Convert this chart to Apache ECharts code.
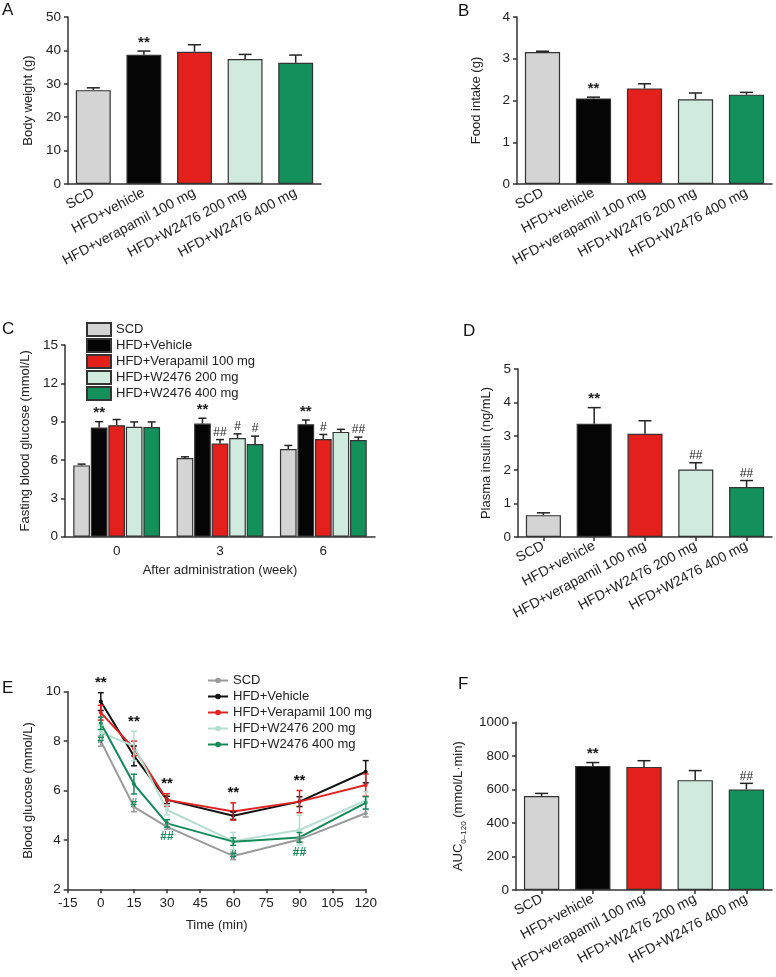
<!DOCTYPE html>
<html><head><meta charset="utf-8">
<script src="https://cdn.jsdelivr.net/npm/echarts@6/dist/echarts.min.js"></script>
<style>
html,body{margin:0;padding:0;background:#fff;width:776px;height:977px;overflow:hidden;}
.p{position:absolute;}
</style></head><body>
<div id="pA" class="p" style="left:0;top:0;width:388px;height:300px"></div>
<div id="pB" class="p" style="left:388px;top:0;width:388px;height:300px"></div>
<div id="pC" class="p" style="left:0;top:300px;width:388px;height:310px"></div>
<div id="pD" class="p" style="left:388px;top:300px;width:388px;height:320px"></div>
<div id="pE" class="p" style="left:0;top:610px;width:388px;height:367px"></div>
<div id="pF" class="p" style="left:388px;top:620px;width:388px;height:357px"></div>
<script>
const FONT = '"Liberation Sans", Arial, Helvetica, sans-serif';
const TXT = '#222';
const AX = '#333';

// ---------- shared categories / groups ----------
const barCats = ['SCD', 'HFD+vehicle', 'HFD+verapamil 100 mg', 'HFD+W2476 200 mg', 'HFD+W2476 400 mg'];
const groupNames = ['SCD', 'HFD+Vehicle', 'HFD+Verapamil 100 mg', 'HFD+W2476 200 mg', 'HFD+W2476 400 mg'];
const barFills = ['#d4d4d4', '#050505', '#e3201b', '#d0eadf', '#14905d'];
const lineColors = ['#9a9a9a', '#111111', '#e02424', '#b5ded0', '#148a5a'];

// ---------- A: body weight ----------
const bodyWeight = [28.1, 38.7, 39.6, 37.4, 36.3];
const bodyWeightErr = [0.7, 1.1, 2.1, 1.4, 2.3];
const bodyWeightSig = ['', '**', '', '', ''];

// ---------- B: food intake ----------
const foodIntake = [3.16, 2.05, 2.29, 2.03, 2.14];
const foodIntakeErr = [0.02, 0.03, 0.11, 0.15, 0.055];
const foodIntakeSig = ['', '**', '', '', ''];

// ---------- C: fasting blood glucose ----------
const weeks = ['0', '3', '6'];
const fbgSCD = [5.58, 6.15, 6.86];
const fbgSCDErr = [0.1, 0.1, 0.28];
const fbgVeh = [8.55, 8.85, 8.8];
const fbgVehErr = [0.45, 0.42, 0.33];
const fbgVer = [8.72, 7.3, 7.64];
const fbgVerErr = [0.45, 0.3, 0.36];
const fbgW200 = [8.6, 7.72, 8.2];
const fbgW200Err = [0.38, 0.33, 0.2];
const fbgW400 = [8.58, 7.25, 7.57];
const fbgW400Err = [0.4, 0.62, 0.22];
const fbgSCDSig = ['', '', ''];
const fbgVehSig = ['**', '**', '**'];
const fbgVerSig = ['', '##', '#'];
const fbgW200Sig = ['', '#', ''];
const fbgW400Sig = ['', '#', '##'];

// ---------- D: plasma insulin ----------
const insulin = [0.65, 3.37, 3.07, 2.01, 1.49];
const insulinErr = [0.07, 0.48, 0.39, 0.2, 0.19];
const insulinSig = ['', '**', '', '##', '##'];

// ---------- E: OGTT blood glucose ----------
const timeE = [0, 15, 30, 60, 90, 120];
const ogttSCD = [8.0, 5.34, 4.53, 3.35, 4.02, 5.08];
const ogttSCDErr = [0.2, 0.2, 0.1, 0.15, 0.1, 0.15];
const ogttVeh = [9.6, 7.4, 5.62, 4.98, 5.55, 6.76];
const ogttVehErr = [0.36, 0.4, 0.15, 0.15, 0.2, 0.45];
const ogttVer = [9.15, 7.7, 5.62, 5.15, 5.55, 6.22];
const ogttVerErr = [0.3, 0.3, 0.25, 0.35, 0.45, 0.45];
const ogttW200 = [8.35, 7.8, 5.21, 3.95, 4.4, 5.6];
const ogttW200Err = [0.3, 0.6, 0.2, 0.35, 0.6, 0.35];
const ogttW400 = [8.72, 6.26, 4.67, 3.93, 4.1, 5.5];
const ogttW400Err = [0.25, 0.4, 0.15, 0.15, 0.2, 0.25];
const ogttStarSig = ['**', '**', '**', '**', '**', ''];
const ogttHashSig = ['#', '#', '##', '#', '##', ''];

// ---------- F: AUC ----------
const auc = [560, 740, 734, 655, 600];
const aucErr = [16, 20, 37, 57, 36];
const aucSig = ['', '**', '', '', '##'];

// ---------- helpers ----------
function letter(t, x, y) {
  return { type: 'text', left: x, top: y, style: { text: t, font: '17px ' + FONT, fill: '#111' } };
}
function valueAxis(min, max, interval, name, nameGap, extra) {
  return Object.assign({
    type: 'value', min: min, max: max, interval: interval,
    name: name, nameLocation: 'middle', nameGap: nameGap,
    nameTextStyle: { fontSize: 13, color: TXT, fontFamily: FONT },
    axisLine: { show: true, onZero: false, lineStyle: { color: AX, width: 1.5 } },
    axisTick: { show: true, length: 4, lineStyle: { color: AX, width: 1.5 } },
    splitLine: { show: false },
    axisLabel: { fontSize: 13.5, color: TXT, fontFamily: FONT, margin: 7, formatter: v => String(v) }
  }, extra || {});
}
function catAxis(data, rotate, ticks, labelSize) {
  return {
    type: 'category', data: data,
    axisLine: { show: true, onZero: false, lineStyle: { color: AX, width: 1.5 } },
    axisTick: { show: ticks, alignWithLabel: true, length: 4, lineStyle: { color: AX, width: 1.5 } },
    axisLabel: { interval: 0, rotate: rotate, fontSize: labelSize, color: TXT, fontFamily: FONT, margin: 8 },
    splitLine: { show: false }
  };
}
function errBarSeries(means, errs, sigs, opt) {
  const data = means.map((m, i) => [i, m, errs[i]]);
  return {
    type: 'custom', z: 5, silent: true, data: data,
    encode: { x: 0, y: [1, 2] },
    renderItem: function (params, api) {
      const i = params.dataIndex;
      const m = api.value(1), e = api.value(2);
      const p0 = api.coord([api.value(0), m]);
      const p1 = api.coord([api.value(0), m + e]);
      const off = opt.offset ? opt.offset(api) : 0;
      const cx = p0[0] + off;
      const cw = opt.capW;
      const st = { stroke: opt.color || '#222', lineWidth: 1.5 };
      const ch = [
        { type: 'line', shape: { x1: cx, y1: p0[1], x2: cx, y2: p1[1] }, style: st },
        { type: 'line', shape: { x1: cx - cw / 2, y1: p1[1], x2: cx + cw / 2, y2: p1[1] }, style: st }
      ];
      const s = sigs[i];
      if (s) {
        ch.push({ type: 'text', style: { text: s, x: cx, y: p1[1] - 1, align: 'center', verticalAlign: 'bottom',
          fontSize: s.indexOf('*') >= 0 ? 15 : 12, fontWeight: s.indexOf('*') >= 0 ? 'bold' : 'normal',
          fontFamily: FONT, fill: '#222' } });
      }
      return { type: 'group', children: ch };
    }
  };
}
function singleBarOption(cfg) {
  return {
    animation: false,
    graphic: [letter(cfg.letter, cfg.lx, cfg.ly)],
    grid: Object.assign({ containLabel: false, outerBoundsMode: 'none' }, cfg.grid),
    xAxis: catAxis(barCats, 28, cfg.xTicks, 14),
    yAxis: valueAxis(cfg.min, cfg.max, cfg.interval, cfg.yName, cfg.nameGap),
    series: [
      {
        type: 'bar', barCategoryGap: '31%',
        data: cfg.means.map((v, i) => ({ value: v, itemStyle: { color: barFills[i] } })),
        itemStyle: { borderColor: '#333', borderWidth: 1.2 }
      },
      errBarSeries(cfg.means, cfg.errs, cfg.sigs, { capW: 13 })
    ]
  };
}

// ---------- A ----------
echarts.init(document.getElementById('pA')).setOption(singleBarOption({
  letter: 'A', lx: 2, ly: 2,
  grid: { left: 68, top: 17, width: 253, height: 167 },
  min: 0, max: 50, interval: 10, yName: 'Body weight (g)', nameGap: 32,
  means: bodyWeight, errs: bodyWeightErr, sigs: bodyWeightSig, xTicks: false
}));

// ---------- B ----------
echarts.init(document.getElementById('pB')).setOption(singleBarOption({
  letter: 'B', lx: 70, ly: 3,
  grid: { left: 129, top: 17, width: 255, height: 167 },
  min: 0, max: 4, interval: 1, yName: 'Food intake (g)', nameGap: 34,
  means: foodIntake, errs: foodIntakeErr, sigs: foodIntakeSig, xTicks: false
}));

// ---------- C ----------
(function () {
  const means = [fbgSCD, fbgVeh, fbgVer, fbgW200, fbgW400];
  const errs = [fbgSCDErr, fbgVehErr, fbgVerErr, fbgW200Err, fbgW400Err];
  const sigs = [fbgSCDSig, fbgVehSig, fbgVerSig, fbgW200Sig, fbgW400Sig];
  const CAT_GAP = 0.16, BAR_GAP = 0.05, N = 5;
  function offsetFor(k) {
    return function (api) {
      const band = api.size([1, 0])[0];
      const gw = band * (1 - CAT_GAP);
      const bw = gw / (N + (N - 1) * BAR_GAP);
      return -gw / 2 + bw / 2 + k * bw * (1 + BAR_GAP);
    };
  }
  const series = [];
  groupNames.forEach((nm, k) => {
    series.push({
      type: 'bar', name: nm, data: means[k],
      barCategoryGap: '16%', barGap: '5%',
      itemStyle: { color: barFills[k], borderColor: '#333', borderWidth: 1.2 }
    });
  });
  groupNames.forEach((nm, k) => {
    series.push(errBarSeries(means[k], errs[k], sigs[k], { capW: 8, offset: offsetFor(k) }));
  });
  echarts.init(document.getElementById('pC')).setOption({
    animation: false,
    graphic: [letter('C', 2, 21)],
    legend: {
      data: groupNames, orient: 'vertical', left: 86, top: 22, padding: 0,
      itemWidth: 24, itemHeight: 13, itemGap: 1, icon: 'rect', selectedMode: false,
      textStyle: { fontSize: 13, color: TXT, fontFamily: FONT }
    },
    grid: { left: 65, top: 45, width: 310, height: 191.7, containLabel: false, outerBoundsMode: 'none' },
    xAxis: Object.assign(catAxis(weeks, 0, false, 13.5), {
      name: 'After administration (week)', nameLocation: 'middle', nameGap: 24,
      nameTextStyle: { fontSize: 13, color: TXT, fontFamily: FONT }
    }),
    yAxis: valueAxis(0, 15, 3, 'Fasting blood glucose (mmol/L)', 30),
    series: series
  });
})();

// ---------- D ----------
echarts.init(document.getElementById('pD')).setOption(singleBarOption({
  letter: 'D', lx: 75, ly: 23,
  grid: { left: 130, top: 69, width: 254, height: 168 },
  min: 0, max: 5, interval: 1, yName: 'Plasma insulin (ng/mL)', nameGap: 25,
  means: insulin, errs: insulinErr, sigs: insulinSig, xTicks: true
}));

// ---------- E ----------
(function () {
  const means = [ogttSCD, ogttVeh, ogttVer, ogttW200, ogttW400];
  const errs = [ogttSCDErr, ogttVehErr, ogttVerErr, ogttW200Err, ogttW400Err];
  const series = [];
  groupNames.forEach((nm, k) => {
    series.push({
      type: 'line', name: nm, data: timeE.map((t, i) => [t, means[k][i]]),
      symbol: 'circle', symbolSize: 4, z: 3,
      lineStyle: { color: lineColors[k], width: 2 },
      itemStyle: { color: lineColors[k] }
    });
  });
  groupNames.forEach((nm, k) => {
    series.push({
      type: 'custom', silent: true, z: 4,
      data: timeE.map((t, i) => [t, means[k][i], errs[k][i]]),
      encode: { x: 0, y: 1 },
      renderItem: function (params, api) {
        const t = api.value(0), m = api.value(1), e = api.value(2);
        const pHi = api.coord([t, m + e]);
        const pLo = api.coord([t, m - e]);
        const st = { stroke: lineColors[k], lineWidth: 1.5 };
        const c = 3;
        return { type: 'group', children: [
          { type: 'line', shape: { x1: pHi[0], y1: pHi[1], x2: pLo[0], y2: pLo[1] }, style: st },
          { type: 'line', shape: { x1: pHi[0] - c, y1: pHi[1], x2: pHi[0] + c, y2: pHi[1] }, style: st },
          { type: 'line', shape: { x1: pLo[0] - c, y1: pLo[1], x2: pLo[0] + c, y2: pLo[1] }, style: st }
        ] };
      }
    });
  });
  // significance annotations, positioned from the data (top of highest error bar / bottom of W2476 400 mg error bar)
  const annData = timeE.map((t, i) => {
    let hi = -Infinity;
    for (let k = 0; k < means.length; k++) hi = Math.max(hi, means[k][i] + errs[k][i]);
    return [t, hi, ogttW400[i] - ogttW400Err[i]];
  });
  series.push({
    type: 'custom', silent: true, z: 6, data: annData, encode: { x: 0, y: [1, 2] },
    renderItem: function (params, api) {
      const i = params.dataIndex;
      const t = api.value(0);
      const pHi = api.coord([t, api.value(1)]);
      const pLo = api.coord([t, api.value(2)]);
      const ch = [];
      if (ogttStarSig[i]) ch.push({ type: 'text', style: { text: ogttStarSig[i], x: pHi[0], y: pHi[1] - 2,
        align: 'center', verticalAlign: 'bottom', fontSize: 15, fontWeight: 'bold', fontFamily: FONT, fill: '#111' } });
      if (ogttHashSig[i]) ch.push({ type: 'text', style: { text: ogttHashSig[i], x: pLo[0], y: pLo[1] + 4,
        align: 'center', verticalAlign: 'top', fontSize: 12, fontWeight: 'bold', fontFamily: FONT, fill: '#148a5a' } });
      return { type: 'group', children: ch };
    }
  });
  echarts.init(document.getElementById('pE')).setOption({
    animation: false,
    graphic: [letter('E', 2, 70)],
    legend: {
      data: groupNames, orient: 'vertical', left: 207, top: 64, padding: 0,
      itemWidth: 20, itemHeight: 7, itemGap: 3, selectedMode: false,
      textStyle: { fontSize: 13, color: TXT, fontFamily: FONT }
    },
    grid: { left: 67.7, top: 81.7, width: 298, height: 197.6, containLabel: false, outerBoundsMode: 'none' },
    xAxis: valueAxis(-15, 120, 15, 'Time (min)', 30),
    yAxis: valueAxis(2, 10, 2, 'Blood glucose (mmol/L)', 28),
    series: series
  });
})();

// ---------- F ----------
(function () {
  const opt = singleBarOption({
    letter: 'F', lx: 70, ly: 56,
    grid: { left: 128, top: 102.3, width: 256, height: 167.7 },
    min: 0, max: 1000, interval: 200, yName: 'AUC{sub|0\u2013120} (mmol/L\u00b7min)', nameGap: 40,
    means: auc, errs: aucErr, sigs: aucSig, xTicks: true
  });
  opt.yAxis.nameTextStyle.rich = { sub: { fontSize: 8, color: TXT, fontFamily: FONT, verticalAlign: 'bottom', padding: [0, 0, -3, 0] } };
  echarts.init(document.getElementById('pF')).setOption(opt);
})();
</script>
</body></html>
